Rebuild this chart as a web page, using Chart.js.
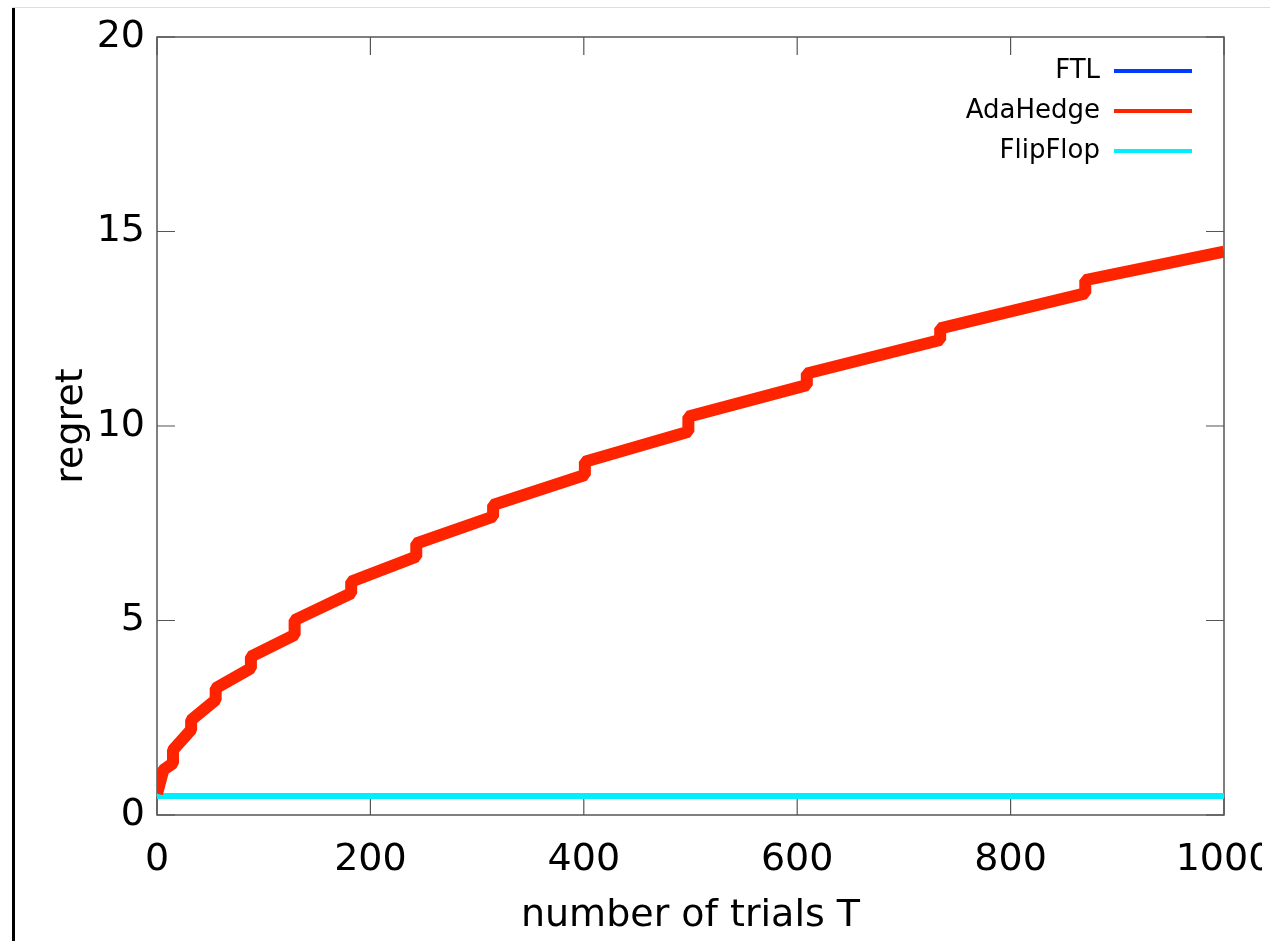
<!DOCTYPE html>
<html>
<head>
<meta charset="utf-8">
<script src="https://cdn.jsdelivr.net/npm/chart.js@4"></script>
<style>
  body { margin: 0; background: #fff; overflow: hidden; }
  #wrap { position: absolute; left: 0; top: 0; width: 1262px; height: 941px; overflow: hidden; }
  #frameLeft { position: absolute; left: 12px; top: 7px; width: 3px; height: 934px; background: #000; }
  #frameTop { position: absolute; left: 12px; top: 7px; width: 1258px; height: 1px; background: #ddd; }
</style>
</head>
<body>
<div id="wrap"><canvas id="myChart" width="1300" height="941"></canvas></div>
<div id="frameLeft"></div>
<div id="frameTop"></div>
<script>
// values (each jump is two points at the same trial)
const trials = [0, 6, 15, 15, 32, 32, 55, 55, 88, 88, 129, 129, 182, 182, 243, 243, 315, 315, 401, 401, 498, 498, 609, 609, 734, 734, 870, 870, 1000];
const adaHedge = [0.55, 1.16, 1.33, 1.67, 2.19, 2.44, 2.96, 3.26, 3.77, 4.07, 4.63, 5.01, 5.70, 6.00, 6.64, 6.98, 7.67, 7.97, 8.74, 9.08, 9.85, 10.24, 11.05, 11.35, 12.21, 12.51, 13.41, 13.75, 14.48];
const flatTrials = [0, 1000];
const ftl = [0.49, 0.49];
const flipFlop = [0.49, 0.49];
const xTicks = [0, 200, 400, 600, 800, 1000];
const yTicks = [0, 5, 10, 15, 20];

let ftlColor = 'rgb(0, 60, 255)';
let adaColor = 'rgb(255, 36, 0)';
let flipColor = 'rgb(0, 238, 255)';

function toPoints(xs, ys) {
    return xs.map((x, i) => ({ x: x, y: ys[i] }));
}

// gnuplot style box with inward ticks
const framePlugin = {
    id: 'framePlugin',
    beforeDatasetsDraw: (chart) => {
        const ctx = chart.ctx;
        const a = chart.chartArea;
        const xs = chart.scales.x;
        const ys = chart.scales.y;
        ctx.save();
        ctx.strokeStyle = '#555';
        ctx.lineWidth = 1.5;
        ctx.strokeRect(a.left, a.top, a.right - a.left, a.bottom - a.top);
        ctx.lineWidth = 1.2;
        ctx.beginPath();
        xTicks.forEach(v => {
            const px = xs.getPixelForValue(v);
            ctx.moveTo(px, a.bottom); ctx.lineTo(px, a.bottom - 18);
            ctx.moveTo(px, a.top); ctx.lineTo(px, a.top + 18);
        });
        yTicks.forEach(v => {
            const py = ys.getPixelForValue(v);
            ctx.moveTo(a.left, py); ctx.lineTo(a.left + 18, py);
            ctx.moveTo(a.right, py); ctx.lineTo(a.right - 18, py);
        });
        ctx.stroke();
        ctx.restore();
    }
};

// legend: right aligned text, line sample on its right
const legendPlugin = {
    id: 'legendPlugin',
    afterDraw: (chart) => {
        const ctx = chart.ctx;
        const names = ['FTL', 'AdaHedge', 'FlipFlop'];
        const colors = [ftlColor, adaColor, flipColor];
        ctx.save();
        ctx.font = '26px "DejaVu Sans"';
        ctx.textAlign = 'right';
        ctx.textBaseline = 'middle';
        names.forEach((n, i) => {
            const y = 71 + i * 40;
            ctx.fillStyle = '#000';
            ctx.fillText(n, 1100, y);
            ctx.strokeStyle = colors[i];
            ctx.lineWidth = 4;
            ctx.beginPath();
            ctx.moveTo(1114, y);
            ctx.lineTo(1192, y);
            ctx.stroke();
        });
        ctx.restore();
    }
};

const tickFont = { family: 'DejaVu Sans', size: 38 };

new Chart(document.getElementById('myChart').getContext('2d'), {
    type: 'line',
    data: {
        datasets: [
            {
                label: 'AdaHedge',
                data: toPoints(trials, adaHedge),
                borderColor: adaColor,
                borderWidth: 12,
                order: 0
            },
            {
                label: 'FlipFlop',
                data: toPoints(flatTrials, flipFlop),
                borderColor: flipColor,
                borderWidth: 6,
                order: 1
            },
            {
                label: 'FTL',
                data: toPoints(flatTrials, ftl),
                borderColor: ftlColor,
                borderWidth: 6,
                order: 2
            }
        ]
    },
    options: {
        responsive: false,
        animation: false,
        elements: {
            point: { radius: 0 },
            line: { tension: 0, borderCapStyle: 'butt', borderJoinStyle: 'bevel' }
        },
        layout: { padding: { left: 0, top: 37, right: 76, bottom: 0 } },
        plugins: { legend: { display: false }, tooltip: { enabled: false } },
        scales: {
            x: {
                type: 'linear',
                min: 0,
                max: 1000,
                afterBuildTicks: (scale) => { scale.ticks = xTicks.map(v => ({ value: v })); },
                afterFit: (scale) => { scale.height = 126; },
                grid: { display: false },
                border: { display: false },
                ticks: { color: '#000', font: tickFont, padding: 14, maxRotation: 0, callback: (v) => String(v) },
                title: { display: true, text: 'number of trials T', color: '#000', font: tickFont, padding: { top: 0, bottom: 2 } }
            },
            y: {
                min: 0,
                max: 20,
                afterBuildTicks: (scale) => { scale.ticks = yTicks.map(v => ({ value: v })); },
                afterFit: (scale) => { scale.width = 157; },
                grid: { display: false },
                border: { display: false },
                ticks: { color: '#000', font: tickFont, padding: 4, callback: (v) => String(v) },
                title: { display: true, text: 'regret', color: '#000', font: tickFont, padding: { top: 49, bottom: 0 } }
            }
        }
    },
    plugins: [framePlugin, legendPlugin]
});
</script>
</body>
</html>
